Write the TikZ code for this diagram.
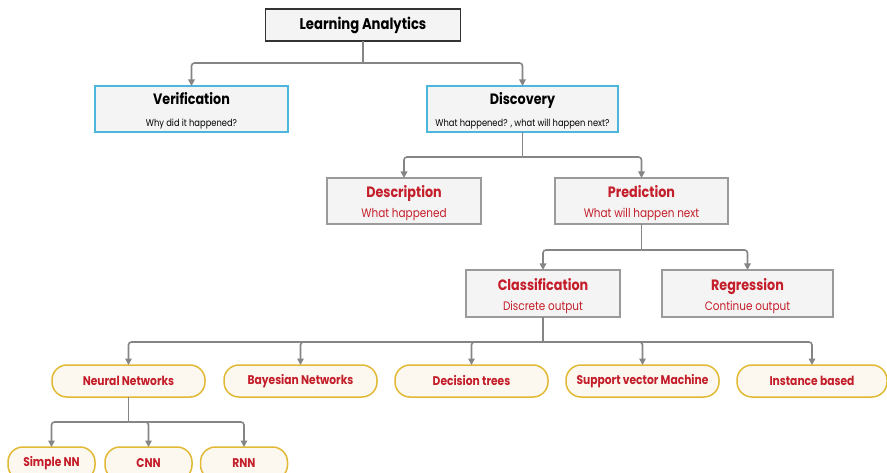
\documentclass[tikz,border=0pt]{standalone}
\usepackage{fontspec}
\setmainfont[FakeStretch=0.85]{Poppins}
\usetikzlibrary{arrows.meta}
\definecolor{conncol}{HTML}{858585}
\definecolor{cyanb}{HTML}{4DB6DD}
\definecolor{grayb}{HTML}{9A9A9A}
\definecolor{darkb}{HTML}{333333}
\definecolor{boxfill}{HTML}{F4F4F4}
\definecolor{redtxt}{HTML}{C41E2A}
\definecolor{goldb}{HTML}{E2B935}
\definecolor{creamfill}{HTML}{FCF8F0}
\tikzset{
  every node/.style={inner sep=0pt, outer sep=0pt},
  topbox/.style={draw=darkb, fill=boxfill, line width=1.6pt, minimum width=195pt, minimum height=32pt,
    font=\fontsize{15.5}{17}\selectfont\bfseries},
  bluebox/.style={draw=cyanb, fill=boxfill, line width=1.6pt, minimum height=46pt, align=center,
    font=\fontsize{10}{22}\selectfont},
  graybox/.style={draw=grayb, fill=boxfill, line width=1.2pt, minimum height=46pt, align=center, text=redtxt,
    font=\fontsize{10}{20}\selectfont},
  pill/.style={draw=goldb, fill=creamfill, line width=1.5pt, rounded corners=15pt, minimum height=32pt,
    text=redtxt, font=\fontsize{12.6}{14}\selectfont\bfseries},
  conn/.style={draw=conncol, line width=1.6pt, rounded corners=3pt, -{Triangle[width=6.5pt,length=6.5pt]}},
  trunk/.style={draw=conncol, line width=1.6pt, rounded corners=3pt},
}
\newcommand{\ttl}[1]{{\fontsize{15}{17}\selectfont\bfseries\rule{0pt}{15pt}#1}}
\newcommand{\ttlr}[1]{{\fontsize{15}{17}\selectfont\bfseries\rule{0pt}{16.5pt}#1}}
\newcommand{\subb}[1]{{\fontsize{9.8}{11}\selectfont #1}}
\newcommand{\subr}[1]{{\fontsize{12.3}{14}\selectfont #1}}
\begin{document}
\begin{tikzpicture}[x=1pt,y=-1pt]
\useasboundingbox (0,0) rectangle (887,473);
\clip (0,0) rectangle (887,473);
\node[topbox] (la) at (363,25) {Learning Analytics};
\node[bluebox, minimum width=193pt] (ver) at (191.5,109) {\ttl{Verification}\\\subb{Why did it happened?}};
\node[bluebox, minimum width=191pt] (dis) at (522.5,109) {\ttl{Discovery}\\\subb{What happened? , what will happen next?}};
\node[graybox, minimum width=154pt] (des) at (404,201) {\ttlr{Description}\\\subr{What happened}};
\node[graybox, minimum width=173pt] (pre) at (641.5,201) {\ttlr{Prediction}\\\subr{What will happen next}};
\node[graybox, minimum width=154pt, minimum height=47pt] (cla) at (543,293.5) {\ttlr{Classification}\\\subr{Discrete output}};
\node[graybox, minimum width=171pt, minimum height=47pt] (reg) at (747.5,293.5) {\ttlr{Regression}\\\subr{Continue output}};
\node[pill, minimum width=153pt] (nn) at (128.5,381) {Neural Networks};
\node[pill, minimum width=153pt] (bn) at (300.5,381) {Bayesian Networks};
\node[pill, minimum width=153pt] (dt) at (471.5,381) {Decision trees};
\node[pill, minimum width=153pt] (svm) at (642.5,381) {Support vector Machine};
\node[pill, minimum width=150pt] (ib) at (812,381) {Instance based};
\node[pill, minimum width=87pt, minimum height=33pt] (snn) at (51.5,463.5) {Simple NN};
\node[pill, minimum width=87pt, minimum height=33pt] (cnn) at (148.5,463.5) {CNN};
\node[pill, minimum width=87pt, minimum height=33pt] (rnn) at (244,463.5) {RNN};
\coordinate (j1) at (363,63);
\coordinate (j2) at (522.5,157);
\coordinate (j3) at (641.5,250);
\coordinate (j4) at (543,342);
\coordinate (j5) at (128.5,422);
\draw[trunk] (la.south) -- (j1);
\draw[conn] (j1) -| (ver.north);
\draw[conn] (j1) -| (dis.north);
\draw[trunk] (dis.south) -- (j2);
\draw[conn] (j2) -| (des.north);
\draw[conn] (j2) -| (pre.north);
\draw[trunk] (pre.south) -- (j3);
\draw[conn] (j3) -| (cla.north);
\draw[conn] (j3) -| (reg.north);
\draw[trunk] (cla.south) -- (j4);
\draw[conn] (j4) -| (nn.north);
\draw[conn] (j4) -| (bn.north);
\draw[conn] (j4) -| (dt.north);
\draw[conn] (j4) -| (svm.north);
\draw[conn] (j4) -| (ib.north);
\draw[trunk] (nn.south) -- (j5);
\draw[conn] (j5) -| (snn.north);
\draw[conn] (j5) -| (cnn.north);
\draw[conn] (j5) -| (rnn.north);
\end{tikzpicture}
\end{document}
